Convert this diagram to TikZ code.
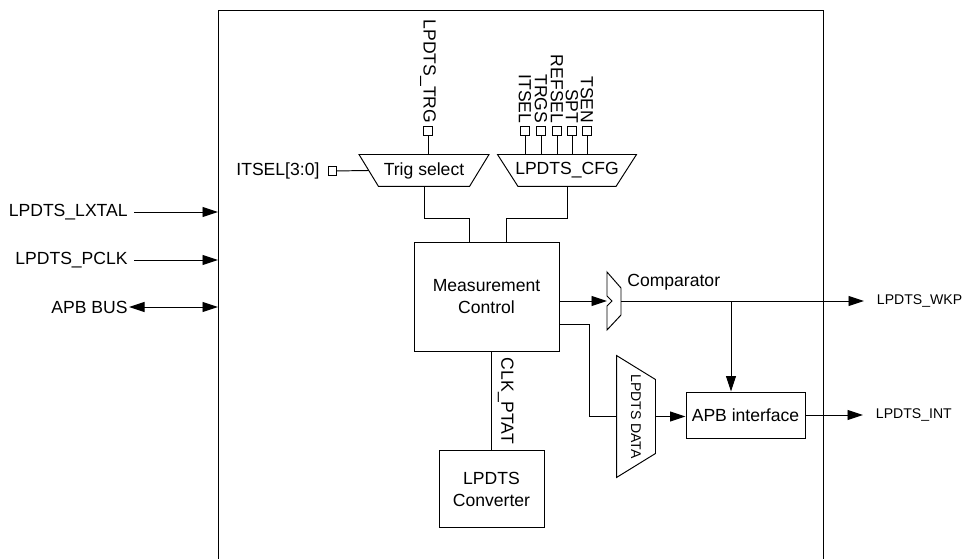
\documentclass[tikz,border=0pt]{standalone}
\usepackage{fontspec}
\setmainfont{Liberation Sans}
\usetikzlibrary{arrows.meta,positioning,calc}

\begin{document}
\begin{tikzpicture}[
    x=1mm, y=1mm,
    line width=0.55pt,
    >={Triangle[length=3.1mm, width=2mm]},
    block/.style={rectangle, draw, align=center, inner sep=0pt},
    mux/.style={rectangle, align=center, inner sep=0pt},
    port/.style={rectangle, draw, fill=white, minimum size=1.7mm, inner sep=0pt},
    vlabel/.style={rotate=-90, anchor=east, inner sep=0.5mm},
    sig/.style={font=\footnotesize, anchor=west, inner xsep=2.5mm},
    arrow/.style={->},
]
    \useasboundingbox (0,0) rectangle (192.6,-111.8);

    % Chip outline (open below the picture)
    \node[draw, anchor=north west, minimum width=121mm, minimum height=125mm, inner sep=0pt] (chip) at (43.6,-2) {};

    % Blocks
    \node[block, minimum width=29mm, minimum height=21.8mm] (mc) at (97.3,-59.3) {Measurement\\Control};
    \node[block, minimum width=21mm, minimum height=15.4mm, below=19.8mm of mc, xshift=1mm] (conv) {LPDTS\\Converter};
    \node[block, minimum width=23.8mm, minimum height=9.2mm] (apb) at (149.1,-83) {APB interface};

    % Selectors
    \node[mux, minimum width=25.8mm, minimum height=6.2mm] (trig) at (84.8,-34.1) {Trig select};
    \draw (trig.north west) -- (trig.north east) -- ([xshift=-3.9mm]trig.south east) -- ([xshift=3.9mm]trig.south west) -- cycle;
    \node[mux, minimum width=27.6mm, minimum height=6.2mm] (cfg) at (113.4,-34.1) {LPDTS\_CFG};
    \draw (cfg.north west) -- (cfg.north east) -- ([xshift=-4.1mm]cfg.south east) -- ([xshift=4.1mm]cfg.south west) -- cycle;
    \node[mux, rotate=-90, minimum width=24.2mm, minimum height=7.6mm, font=\footnotesize] (data) at (127.2,-83.3) {LPDTS DATA};
    \draw (data.south west) -- (data.south east) -- ([yshift=4.8mm]data.north east) -- ([yshift=-4.8mm]data.north west) -- cycle;

    % Comparator
    \coordinate (cmpin) at (121.4,-60.2);
    \coordinate (cmpout) at (124.2,-60.2);
    \draw (cmpin) ++(0,5.8) -- ++(2.8,-3.2) -- ++(0,-5.4) -- ++(-2.8,-3) -- ++(0,4.8) -- ++(1,1) -- ++(-1,1) -- cycle;
    \node[anchor=west] (cmplbl) at (124.2,-56.4) {Comparator};
    \coordinate (jn) at (146.2,-60.2);

    % Pins
    \node[port] (trgpin) at (85.6,-26.2) {};
    \node[vlabel] at (trgpin.north) {LPDTS\_TRG};
    \node[port] (itpin) at (66.5,-34.2) {};
    \node[left=0.4mm of itpin] (itlbl) {ITSEL[3:0]};
    \foreach \sig/\x in {ITSEL/105, TRGS/108.2, REFSEL/111.4, SPT/114.4, TSEN/117.4} {
        \node[port] (p\sig) at (\x,-26.2) {};
        \node[vlabel] at (p\sig.north) {\sig};
        \draw (p\sig) -- (p\sig |- cfg.north);
    }

    % Outer signals
    \node[anchor=east] (lxtal) at (26.8,-42.4) {LPDTS\_LXTAL};
    \node[anchor=east] (pclk) at (26.8,-52) {LPDTS\_PCLK};
    \node[anchor=east, inner xsep=0.2mm] (apbbus) at (25.8,-61.4) {APB BUS};
    \node[sig] (wkp) at (172.8,-60.2) {LPDTS\_WKP};
    \node[sig] (int) at (172.6,-83) {LPDTS\_INT};

    % Wires
    \draw (trgpin) -- (trgpin |- trig.north);
    \draw (itpin) -- ([xshift=1.95mm]trig.west);
    \draw (trig.south) |- ([shift={(-3.5mm,4.6mm)}]mc.north) -- ([xshift=-3.5mm]mc.north);
    \draw (cfg.south) |- ([shift={(3.9mm,4.6mm)}]mc.north) -- ([xshift=3.9mm]mc.north);
    \draw[arrow] (mc.east |- cmpin) -- (cmpin);
    \draw[arrow] (cmpout) -- (wkp);
    \draw[arrow] (jn) -- (jn |- apb.north);
    \draw ([yshift=-5.5mm]mc.east) -| ([xshift=-5.4mm]data.south) -- (data.south);
    \draw[arrow] (data.north) -- (data.north -| apb.west);
    \draw[arrow] (apb) -- (int);
    \draw (conv.north) -- (conv.north |- mc.south) node[midway, rotate=-90, anchor=south] {CLK\_PTAT};
    \draw[arrow] (lxtal) -- (lxtal -| chip.west);
    \draw[arrow] (pclk) -- (pclk -| chip.west);
    \draw[<->] (apbbus) -- (apbbus -| chip.west);

\end{tikzpicture}
\end{document}
